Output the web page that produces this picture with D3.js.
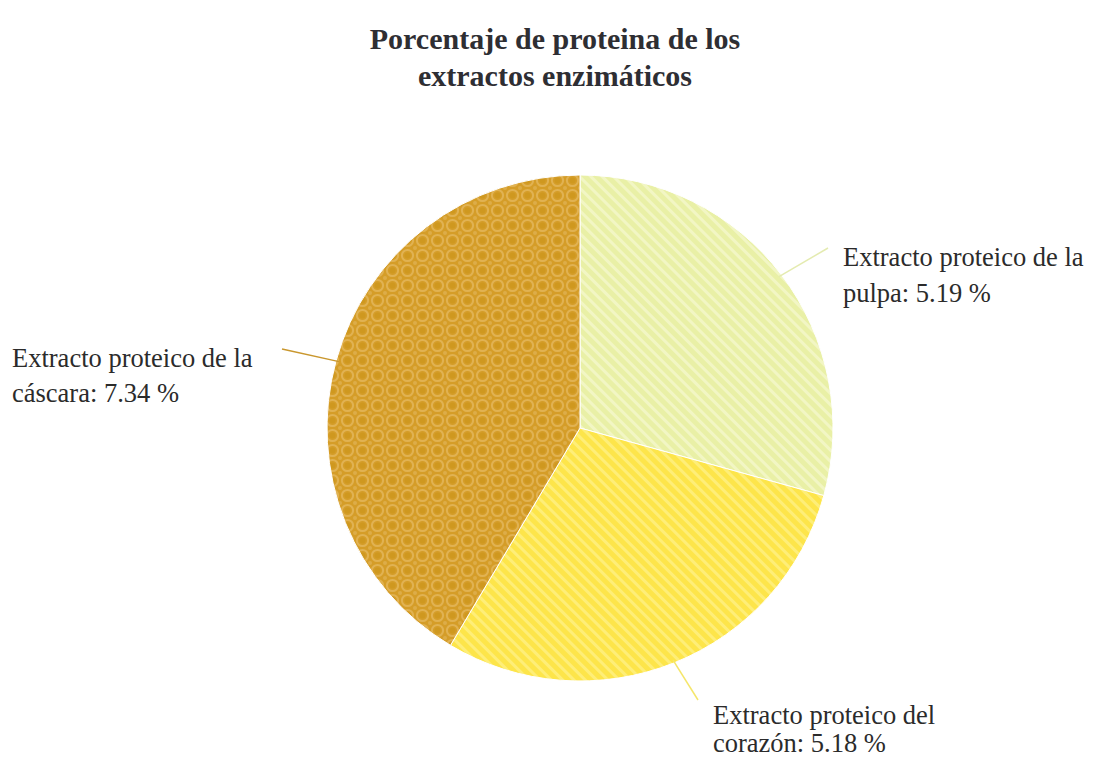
<!DOCTYPE html>
<html>
<head>
<meta charset="utf-8">
<script src="https://cdn.jsdelivr.net/npm/d3@7"></script>
<style>
  html, body { margin: 0; padding: 0; background: #ffffff; }
  svg { display: block; }
  text { font-family: "Liberation Serif", "Times New Roman", serif; }
</style>
</head>
<body>
<svg id="chart" width="1099" height="761"></svg>
<script>
// Protein content of each enzymatic extract (%)
const categories = [
  "Extracto proteico de la pulpa",
  "Extracto proteico del corazón",
  "Extracto proteico de la cáscara"
];
const values = [5.19, 5.18, 7.34];
const labelLines = [
  ["Extracto proteico de la", "pulpa: 5.19 %"],
  ["Extracto proteico del", "corazón: 5.18 %"],
  ["Extracto proteico de la", "cáscara: 7.34 %"]
];
const titleLines = ["Porcentaje de proteina de los", "extractos enzimáticos"];

const svg = d3.select("#chart");
const cx = 580, cy = 428, radius = 253;

// Fill patterns for the slices
const defs = svg.append("defs");

function stripePattern(id, base, stripe) {
  const p = defs.append("pattern")
    .attr("id", id).attr("patternUnits", "userSpaceOnUse")
    .attr("width", 8).attr("height", 8)
    .attr("patternTransform", "rotate(-45)");
  p.append("rect").attr("width", 8).attr("height", 8).attr("fill", base);
  p.append("rect").attr("x", 0).attr("width", 3).attr("height", 8).attr("fill", stripe);
}
stripePattern("pat-pulpa", "#e9f0a6", "#f2f6c4");
stripePattern("pat-corazon", "#fde54a", "#feee78");

const dots = defs.append("pattern")
  .attr("id", "pat-cascara").attr("patternUnits", "userSpaceOnUse")
  .attr("width", 15).attr("height", 15);
dots.append("rect").attr("width", 15).attr("height", 15).attr("fill", "#d59d28");
dots.append("circle").attr("cx", 7.5).attr("cy", 7.5).attr("r", 5.6)
  .attr("fill", "none").attr("stroke", "#e1b252").attr("stroke-width", 2);
[[0, 0], [15, 0], [0, 15], [15, 15]].forEach(([x, y]) =>
  dots.append("circle").attr("cx", x).attr("cy", y).attr("r", 2).attr("fill", "#ddac48"));
dots.append("circle").attr("cx", 7.5).attr("cy", 7.5).attr("r", 3).attr("fill", "#cf981f");

const fills = ["url(#pat-pulpa)", "url(#pat-corazon)", "url(#pat-cascara)"];
const leaderColors = ["#e4ebb0", "#f5e66a", "#c9972e"];

const pie = d3.pie().sort(null).value(d => d)(values);
const arc = d3.arc().innerRadius(0).outerRadius(radius);

const g = svg.append("g").attr("transform", `translate(${cx},${cy})`);
g.selectAll("path.slice")
  .data(pie)
  .join("path")
  .attr("class", "slice")
  .attr("d", arc)
  .attr("fill", (d, i) => fills[i])
  .attr("stroke", "#ffffff")
  .attr("stroke-width", 1);

// Leader lines: from the middle of each slice's rim toward its label
const leaderEnds = [[248, -180], [118, 272], [-298, -79]];
pie.forEach((d, i) => {
  const a = (d.startAngle + d.endAngle) / 2;
  const start = [Math.sin(a) * (radius - 3), -Math.cos(a) * (radius - 3)];
  g.append("line")
    .attr("x1", start[0]).attr("y1", start[1])
    .attr("x2", leaderEnds[i][0]).attr("y2", leaderEnds[i][1])
    .attr("stroke", leaderColors[i]).attr("stroke-width", 1.5);
});

// Labels
const labelPos = [[843, 266], [713, 724], [12, 367]];
const lineGap = [36, 28, 35];
labelLines.forEach((lines, i) => {
  const t = svg.append("text")
    .attr("x", labelPos[i][0]).attr("y", labelPos[i][1])
    .attr("font-size", 26.5).attr("fill", "#2b2b2b");
  lines.forEach((ln, j) => {
    t.append("tspan").attr("x", labelPos[i][0]).attr("dy", j === 0 ? 0 : lineGap[i]).text(ln);
  });
});

// Title
const title = svg.append("text")
  .attr("x", 555).attr("y", 49)
  .attr("text-anchor", "middle")
  .attr("font-size", 30).attr("font-weight", "bold").attr("fill", "#2e2e33");
titleLines.forEach((ln, j) => {
  title.append("tspan").attr("x", 555).attr("dy", j === 0 ? 0 : 37).text(ln);
});
</script>
</body>
</html>
